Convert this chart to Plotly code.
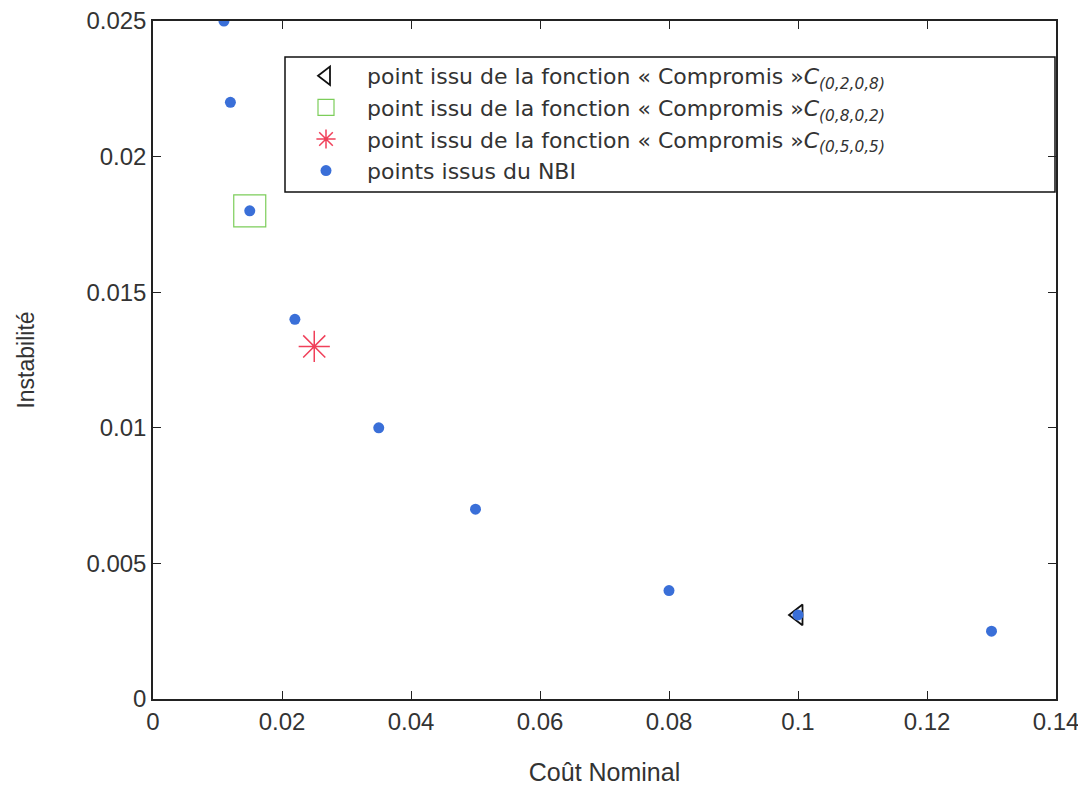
import plotly.graph_objects as go

# NBI points
nbi_x = [0.011, 0.012, 0.015, 0.022, 0.035, 0.05, 0.08, 0.1, 0.13]
nbi_y = [0.025, 0.022, 0.018, 0.014, 0.010, 0.007, 0.004, 0.0031, 0.0025]

# Compromise points
c28_x = [0.1]
c28_y = [0.0031]
c82_x = [0.015]
c82_y = [0.018]
c55_x = [0.025]
c55_y = [0.013]

x_ticks = [0, 0.02, 0.04, 0.06, 0.08, 0.1, 0.12, 0.14]
x_ticklabels = ["0", "0.02", "0.04", "0.06", "0.08", "0.1", "0.12", "0.14"]
y_ticks = [0, 0.005, 0.01, 0.015, 0.02, 0.025]
y_ticklabels = ["0", "0.005", "0.01", "0.015", "0.02", "0.025"]

FONT = "Liberation Sans, Arial, sans-serif"
SP = "&nbsp;&nbsp;&nbsp;"

# figure coords = image coords - 8 (page body margin)
W, H = 1078, 778
L, T = 145, 13
PW, PH = 903, 678

def px_x(ix):
    return (ix - 8 - L) / PW

def px_y(iy):
    return 1 - (iy - 8 - T) / PH

fig = go.Figure()
fig.add_trace(go.Scatter(
    x=c28_x, y=c28_y, mode="markers",
    name=SP + "point issu de la fonction « Compromis »<i>C<sub>(0,2,0,8)</sub></i>",
    marker=dict(symbol="triangle-left-open", size=18, color="#111111", line=dict(width=1.8)),
))
fig.add_trace(go.Scatter(
    x=c82_x, y=c82_y, mode="markers",
    name=SP + "point issu de la fonction « Compromis »<i>C<sub>(0,8,0,2)</sub></i>",
    marker=dict(symbol="square-open", size=32, color="#7ccd5a", line=dict(width=1.2)),
))
fig.add_trace(go.Scatter(
    x=c55_x, y=c55_y, mode="markers",
    name=SP + "point issu de la fonction « Compromis »<i>C<sub>(0,5,0,5)</sub></i>",
    marker=dict(symbol="asterisk-open", size=26, color="#f0405a", line=dict(width=1.5, color="#f0405a")),
))
fig.add_trace(go.Scatter(
    x=nbi_x, y=nbi_y, mode="markers",
    name=SP + "points issus du NBI",
    marker=dict(symbol="circle", size=11, color="#3a6fd8"),
))

fig.add_shape(type="rect", xref="paper", yref="paper",
              x0=px_x(285), x1=px_x(1055),
              y0=px_y(192), y1=px_y(57),
              line=dict(color="#111111", width=1.5), fillcolor="white", layer="below")

fig.update_layout(
    width=W, height=H,
    margin=dict(l=L, r=W - L - PW, t=T, b=H - T - PH, autoexpand=False),
    paper_bgcolor="white", plot_bgcolor="white",
    font=dict(family=FONT, size=24, color="#333333"),
    showlegend=True,
    legend=dict(x=px_x(306), y=px_y(55), xanchor="left", yanchor="top",
                bgcolor="rgba(0,0,0,0)", borderwidth=0,
                font=dict(size=22, family="DejaVu Sans, Liberation Sans, sans-serif"),
                tracegroupgap=0, itemsizing="trace"),
    xaxis=dict(range=[0, 0.14], tickvals=x_ticks, ticktext=x_ticklabels,
               ticks="inside", ticklen=8, tickcolor="#222", showgrid=False, zeroline=False,
               showline=True, linecolor="#222", linewidth=1.5, mirror="ticks",
               tickfont=dict(size=24), ticklabeloverflow="allow", automargin=False,
               title=dict(text="Coût Nominal", standoff=34, font=dict(size=25))),
    yaxis=dict(range=[0, 0.025], tickvals=y_ticks, ticktext=y_ticklabels,
               ticks="inside", ticklen=8, tickcolor="#222", showgrid=False, zeroline=False,
               showline=True, linecolor="#222", linewidth=1.5, mirror="ticks",
               tickfont=dict(size=24), ticklabeloverflow="allow", automargin=False,
               title=dict(text="Instabilité", standoff=45, font=dict(size=23))),
)

fig.write_html("out.html")
